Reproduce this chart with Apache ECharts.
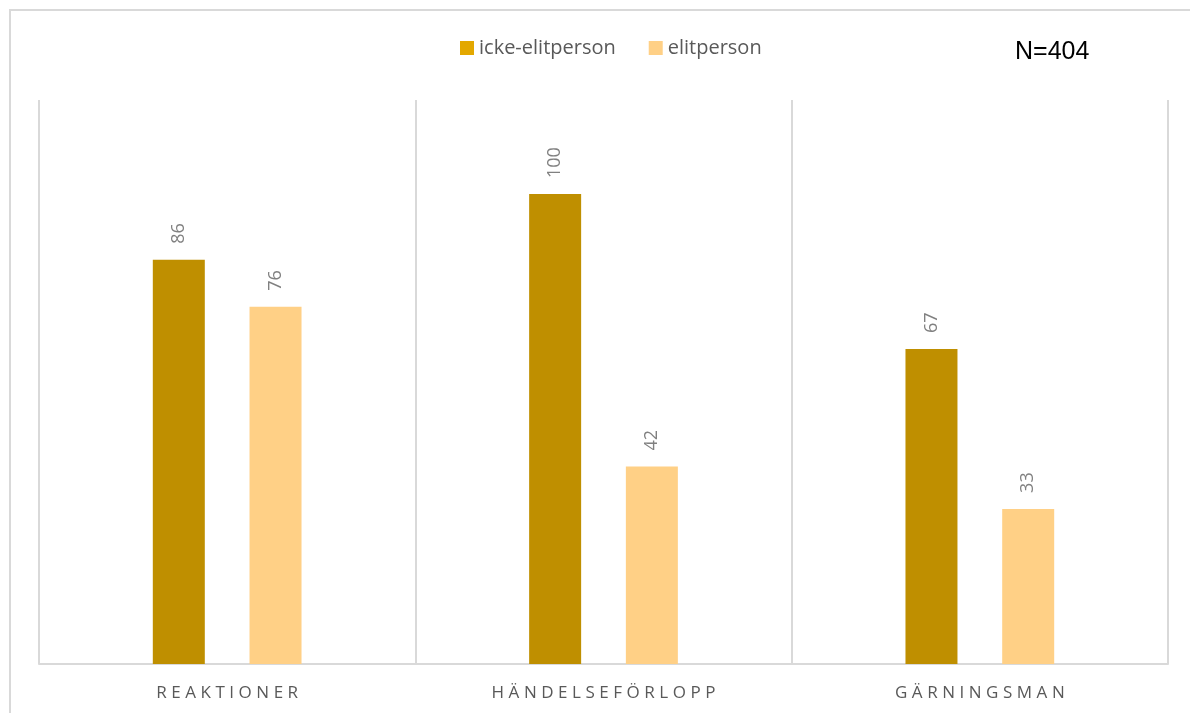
<!DOCTYPE html>
<html><head><meta charset="utf-8">
<script src="https://cdn.jsdelivr.net/npm/echarts@6/dist/echarts.min.js"></script>
<style>html,body{margin:0;padding:0;background:#fff}#c{width:1190px;height:713px}</style>
</head><body><div id="c"></div>
<script>
const categories = ['REAKTIONER', 'HÄNDELSEFÖRLOPP', 'GÄRNINGSMAN'];
const seriesNames = ['icke-elitperson', 'elitperson'];
const ickeElit = [86, 100, 67];
const elit = [76, 42, 33];
const yMax = 120;

const spaced = s => s.split('').join('\u2009\u200A');
const chart = echarts.init(document.getElementById('c'));
const labelStyle = {show: true, position: 'top', rotate: 90, align: 'left', verticalAlign: 'middle', distance: 16, color: '#808080', fontSize: 18, fontFamily: 'Open Sans, sans-serif'};
chart.setOption({
  animation: false,
  graphic: [
    {type: 'rect', shape: {x: 10, y: 10, width: 1200, height: 720}, style: {fill: 'none', stroke: '#d9d9d9', lineWidth: 2}, z: -1},
    {type: 'text', left: 1015, top: 40, style: {text: 'N=404', fill: '#000', font: '25px "Liberation Sans", sans-serif'}}
  ],
  legend: {
    data: [{name: seriesNames[0], itemStyle: {color: '#E3A800'}}, {name: seriesNames[1]}],
    top: 33, left: 455, itemWidth: 14, itemHeight: 14, itemGap: 33, icon: 'rect',
    textStyle: {color: '#595959', fontSize: 20, fontFamily: 'Open Sans, sans-serif'}
  },
  grid: {left: 39, right: 22, top: 100, bottom: 49, containLabel: false},
  xAxis: {
    type: 'category', data: categories,
    axisLine: {lineStyle: {color: '#d9d9d9', width: 2}},
    axisTick: {show: false},
    splitLine: {show: true, lineStyle: {color: '#d9d9d9', width: 2}},
    axisLabel: {color: '#595959', fontSize: 17, margin: 21, fontFamily: 'Open Sans, sans-serif', formatter: v => spaced(v)}
  },
  yAxis: {type: 'value', min: 0, max: yMax, show: false, splitLine: {show: false}},
  series: [
    {name: seriesNames[0], type: 'bar', data: ickeElit, barWidth: 52, barGap: '86%', itemStyle: {color: '#BF8F00'}, label: labelStyle},
    {name: seriesNames[1], type: 'bar', data: elit, barWidth: 52, itemStyle: {color: '#FFD086'}, label: labelStyle}
  ]
});
</script></body></html>
